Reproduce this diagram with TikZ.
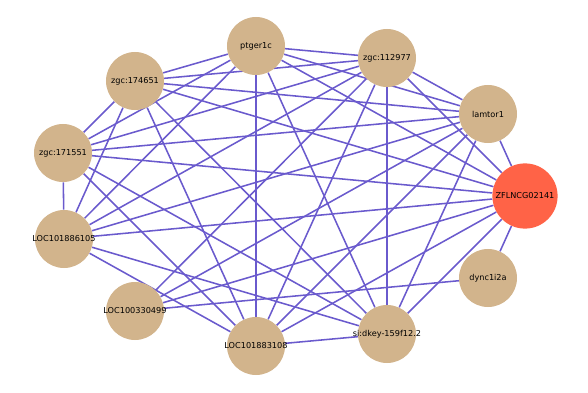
\documentclass[tikz,border=0pt]{standalone}
\usepackage{fontspec}
\setmainfont{DejaVu Sans}
\usetikzlibrary{backgrounds}
\definecolor{EdgeClr}{rgb}{0.41568627450980394,0.35294117647058826,0.803921568627451}
\definecolor{GeneClr}{rgb}{0.8235294117647058,0.7058823529411765,0.5490196078431373}
\definecolor{HubClr}{rgb}{1,0.38823529411764707,0.2784313725490196}
\newcommand{\gname}[1]{\makebox[0pt]{#1}}

\begin{document}
\begin{tikzpicture}[x=0.025cm,y=-0.025cm,
  gene/.style={circle,fill=GeneClr,minimum size=1.45cm,inner sep=0pt,font=\fontsize{5.8}{7}\selectfont},
  hub/.style={gene,fill=HubClr,minimum size=1.63cm},
  link/.style={EdgeClr,line width=1.1pt}]
\useasboundingbox (0,0) rectangle (588,393);

\node[hub]  (zfl)  at (525,196) {\gname{ZFLNCG02141}};
\node[gene] (lam)  at (488,114) {\gname{lamtor1}};
\node[gene] (z112) at (387,58)  {\gname{zgc:112977}};
\node[gene] (ptg)  at (256,46)  {\gname{ptger1c}};
\node[gene] (z174) at (135,81)  {\gname{zgc:174651}};
\node[gene] (z171) at (63,153)  {\gname{zgc:171551}};
\node[gene] (l105) at (64,239)  {\gname{LOC101886105}};
\node[gene] (l499) at (135,311) {\gname{LOC100330499}};
\node[gene] (l108) at (256,346) {\gname{LOC101883108}};
\node[gene] (sid)  at (387,334) {\gname{si:dkey-159f12.2}};
\node[gene] (dyn)  at (488,278) {\gname{dync1i2a}};

\begin{scope}[on background layer]
\foreach \a/\b in {zfl/lam,zfl/z112,zfl/ptg,zfl/z174,zfl/z171,zfl/l105,zfl/l499,zfl/l108,zfl/sid,zfl/dyn,
  lam/z112,lam/ptg,lam/z174,lam/z171,lam/l105,lam/l499,lam/l108,lam/sid,
  z112/ptg,z112/z174,z112/z171,z112/l105,z112/l499,z112/l108,z112/sid,
  ptg/z174,ptg/z171,ptg/l105,ptg/l108,ptg/sid,
  z174/z171,z174/l105,z174/l108,z174/sid,
  z171/l105,z171/l108,z171/sid,
  l105/l108,l105/sid,
  l499/dyn,l108/sid}
  \draw[link] (\a) -- (\b);
\end{scope}

\end{tikzpicture}
\end{document}
